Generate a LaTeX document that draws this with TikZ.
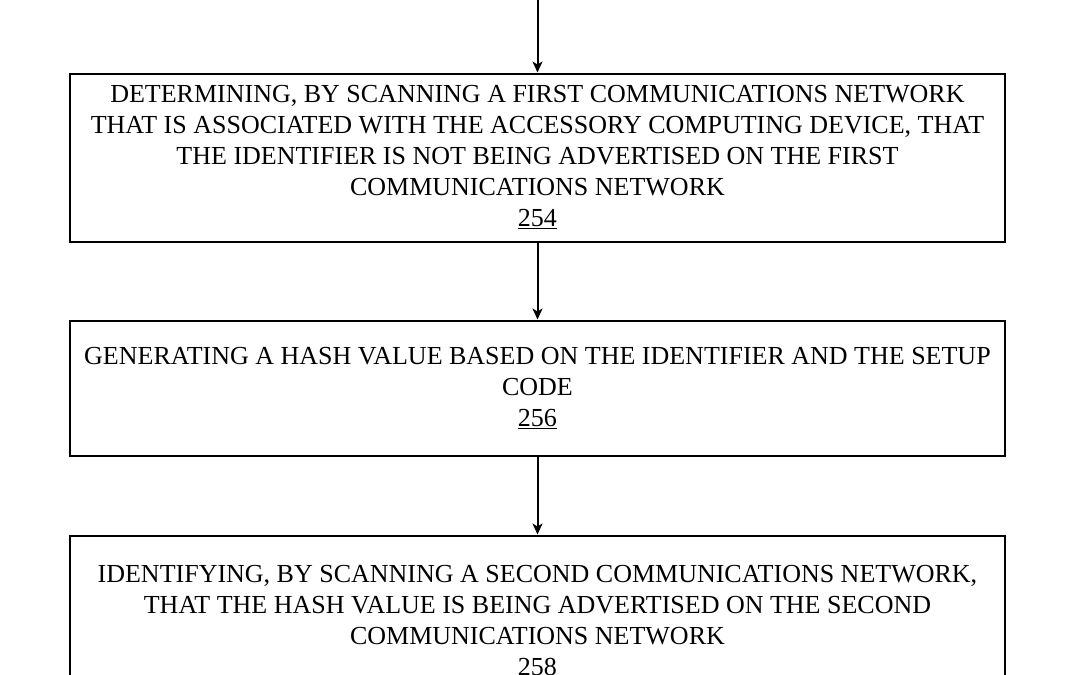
\documentclass[tikz,border=0pt]{standalone}
\usepackage{fontspec}
\setmainfont{Liberation Serif}
\usetikzlibrary{arrows.meta}
\begin{document}
\begin{tikzpicture}[x=1pt,y=-1pt,
  stepbox/.style={draw=black,line width=2pt,minimum width=935pt,inner sep=0pt,align=center,
    font=\fontsize{26}{31}\selectfont},
  flow/.style={line width=2pt,-{Stealth[length=11pt,width=10pt,inset=3pt]}}]
\useasboundingbox (0,0) rectangle (1080,675);
\clip (0,0) rectangle (1080,675);
\fill[white] (0,0) rectangle (1080,675);
\coordinate (top) at (537.5,-2);
\node[stepbox,minimum height=168pt] (b1) at (537.5,157.5) {DETERMINING, BY SCANNING A FIRST COMMUNICATIONS NETWORK\\THAT IS ASSOCIATED WITH THE ACCESSORY COMPUTING DEVICE, THAT\\THE IDENTIFIER IS NOT BEING ADVERTISED ON THE FIRST\\COMMUNICATIONS NETWORK\\\underline{254}};
\node[stepbox,minimum height=135pt] (b2) at (537.5,388) {GENERATING A HASH VALUE BASED ON THE IDENTIFIER AND THE SETUP\\CODE\\\underline{256}};
\node[stepbox,minimum height=172pt] (b3) at (537.5,621.5) {IDENTIFYING, BY SCANNING A SECOND COMMUNICATIONS NETWORK,\\THAT THE HASH VALUE IS BEING ADVERTISED ON THE SECOND\\COMMUNICATIONS NETWORK\\\underline{258}};
\draw[flow] (top) -- (b1.north);
\draw[flow] (b1.south) -- (b2.north);
\draw[flow] (b2.south) -- (b3.north);
\end{tikzpicture}
\end{document}
